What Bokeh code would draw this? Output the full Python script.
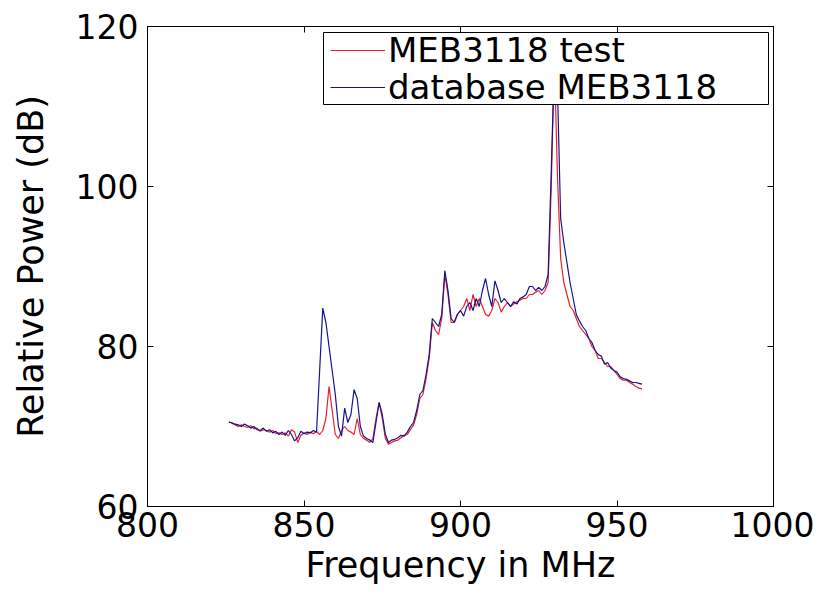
from bokeh.plotting import figure
from bokeh.models import LinearAxis, FixedTicker, Range1d, Legend, LegendItem, BoxAnnotation
from bokeh.embed import file_html
from bokeh.resources import INLINE

freq = [826, 827, 828, 829, 830, 831, 832, 833, 834, 835, 836, 837, 838, 839, 840,
        841, 842, 843, 844, 845, 846, 847, 848, 849, 850, 851, 852, 853, 854, 855,
        856, 857, 858, 859, 860, 861, 862, 863, 864, 865, 866, 867, 868, 869, 870,
        871, 872, 873, 874, 875, 876, 877, 878, 879, 880, 881, 882, 883, 884, 885,
        886, 887, 888, 889, 890, 891, 892, 893, 894, 895, 896, 897, 898, 899, 900,
        901, 902, 903, 904, 905, 906, 907, 908, 909, 910, 911, 912, 913, 914, 915,
        916, 917, 918, 919, 920, 921, 922, 923, 924, 925, 926, 927, 928, 929, 930,
        931, 932, 933, 934, 935, 936, 937, 938, 939, 940, 941, 942, 943, 944, 945,
        946, 947, 948, 949, 950, 951, 952, 953, 954, 955, 956, 957, 958]

meb_test = [70.5, 70.5, 70.2, 70.0, 70.2, 70.0, 69.9, 70.1, 69.7, 69.8, 69.4, 69.6, 69.5, 69.3, 69.5,
            69.1, 69.2, 69.0, 69.2, 68.8, 69.6, 69.3, 68.0, 68.9, 69.2, 69.0, 69.3, 69.1, 69.4,
            69.0, 69.5, 71.0, 75.0, 72.0, 69.0, 68.5, 69.5, 70.0, 69.5, 69.3, 69.0, 71.0, 69.0, 68.5,
            68.3, 68.0, 68.5, 71.0, 73.0,
            71.0, 68.5, 67.8, 68.0, 68.2, 68.3, 68.6, 68.9, 69.0, 69.6, 70.2, 71.5, 73.5, 74.0, 76.0,
            78.5, 83.0, 82.0, 81.5, 83.5,
            89.0, 86.5, 83.0, 83.0, 84.0, 84.5, 85.0, 86.0, 84.5, 86.5, 85.0, 86.0, 85.0, 84.0, 83.8,
            84.5, 86.0, 85.5, 84.3, 85.0,
            85.5, 85.0, 85.3, 85.6, 85.8, 86.0, 86.0, 86.5, 86.5, 86.8, 87.0, 86.5, 87.0, 88.0, 100.0,
            116.0, 101.0, 91.0, 88.0, 86.5,
            85.0, 84.5, 83.5, 82.5, 82.0, 81.5, 81.0, 80.0, 79.5, 78.5, 78.5, 78.0, 77.5, 77.5, 77.0,
            76.5, 76.0, 75.8, 75.8, 75.5,
            75.3, 75.0, 74.8, 74.7]

database = [70.6, 70.4, 70.3, 70.2, 70.0, 70.3, 70.1, 69.8, 70.0, 69.6, 69.5, 69.8, 69.4, 69.6, 69.2,
            69.4, 69.0, 69.3, 68.9, 69.5, 69.0, 68.2, 68.6, 69.4, 69.1, 69.3, 69.2, 69.5, 69.3,
            77.0, 84.8, 83.0, 80.0, 77.0, 74.0, 70.0, 68.8, 72.3, 70.5, 71.5, 74.6, 73.5, 70.0, 68.8,
            68.5, 68.3, 68.0, 70.5, 73.0,
            71.5, 69.0, 68.0, 68.3, 68.4, 68.6, 68.9, 68.8, 69.3, 70.0, 70.5, 72.0, 74.0, 74.5, 76.5,
            79.0, 83.5, 83.0, 82.5, 84.0,
            89.5, 87.0, 83.5, 83.0, 84.0, 84.5, 83.8, 85.0, 85.5, 84.5, 86.0, 85.0, 87.0, 88.5, 86.5,
            85.0, 88.2, 87.0, 85.5, 86.0,
            85.5, 85.0, 85.6, 85.3, 86.0, 86.2, 86.5, 87.5, 87.5, 87.0, 87.4, 87.0, 87.5, 89.0, 102.0,
            116.0, 112.0, 96.0, 93.0, 90.5,
            88.0, 86.0, 84.0, 83.2, 82.5, 82.0, 81.0, 80.5, 79.5, 79.0, 78.8, 77.8, 78.0, 77.3, 77.0,
            76.8, 76.2, 76.0, 75.9, 75.7,
            75.5, 75.5, 75.4, 75.3]

x_ticks = [800, 850, 900, 950, 1000]
y_ticks = [60, 80, 100, 120]
labels = ["MEB3118 test", "database MEB3118"]

FONT = "DejaVu Sans"
TICK_FS = "33px"
LABEL_FS = "35px"
LEGEND_FS = "34px"

W, H = 814, 595
FL, FR, FT, FB = 147, 773, 26, 506
X0, X1, Y0, Y1 = 800, 1000, 60, 120


def sx2x(px):
    return X0 + (px - FL) * (X1 - X0) / (FR - FL)


def sy2y(py):
    return Y0 + (FB - py) * (Y1 - Y0) / (FB - FT)


p = figure(width=W, height=H, output_backend="svg", toolbar_location=None,
           x_range=Range1d(X0, X1), y_range=Range1d(Y0, Y1),
           min_border_left=FL, min_border_right=W - FR, min_border_top=FT, min_border_bottom=H - FB,
           background_fill_color="white", border_fill_color="white")
p.grid.visible = False
p.outline_line_color = "black"
p.outline_line_width = 1

for ax in (p.xaxis[0], p.yaxis[0]):
    ax.major_label_text_font = FONT
    ax.major_label_text_font_size = TICK_FS
    ax.major_label_text_color = "black"
    ax.axis_label_text_font = FONT
    ax.axis_label_text_font_size = LABEL_FS
    ax.axis_label_text_font_style = "normal"
    ax.axis_label_text_color = "black"
    ax.major_tick_in = 6
    ax.major_tick_out = 0
    ax.minor_tick_in = 0
    ax.minor_tick_out = 0
    ax.axis_line_color = "black"
    ax.major_tick_line_color = "black"

p.xaxis[0].ticker = FixedTicker(ticks=x_ticks)
p.yaxis[0].ticker = FixedTicker(ticks=y_ticks)
p.xaxis[0].axis_label = "Frequency in MHz"
p.yaxis[0].axis_label = "Relative Power (dB)"
p.xaxis[0].major_label_standoff = 5
p.yaxis[0].major_label_standoff = 9
p.xaxis[0].axis_label_standoff = 5
p.yaxis[0].axis_label_standoff = 22

top = LinearAxis(ticker=FixedTicker(ticks=x_ticks), major_label_text_font_size="0px",
                 major_label_text_alpha=0, major_label_text_color=None,
                 major_tick_in=6, major_tick_out=0, minor_tick_in=0, minor_tick_out=0,
                 major_label_standoff=0)
right = LinearAxis(ticker=FixedTicker(ticks=y_ticks), major_label_text_font_size="0px",
                   major_label_text_alpha=0, major_label_text_color=None,
                   major_tick_in=6, major_tick_out=0, minor_tick_in=0, minor_tick_out=0,
                   major_label_standoff=0)
p.add_layout(top, "above")
p.add_layout(right, "right")

r1 = p.line(freq, meb_test, line_color="#e8202a", line_width=1.2)
r2 = p.line(freq, database, line_color="#14148c", line_width=1.2)

# legend frame
box = BoxAnnotation(left=sx2x(323), right=sx2x(768), top=sy2y(32), bottom=sy2y(104),
                    fill_color="white", fill_alpha=1.0, line_color="black", line_width=1,
                    line_alpha=1.0)
p.add_layout(box)

ITEM_H = 40
row_centers = [50, 87]
for lab, rend, cy in zip(labels, [r1, r2], row_centers):
    lg = Legend(items=[LegendItem(label=lab, renderers=[rend])],
                location=(330 - FL, FB - (cy + ITEM_H / 2)), margin=0, padding=0, spacing=0,
                label_text_font=FONT, label_text_font_size=LEGEND_FS, label_text_color="black",
                glyph_width=55, glyph_height=20, label_standoff=3,
                border_line_color=None, background_fill_alpha=0.0)
    p.add_layout(lg)

open("out.html", "w").write(file_html(p, INLINE))
